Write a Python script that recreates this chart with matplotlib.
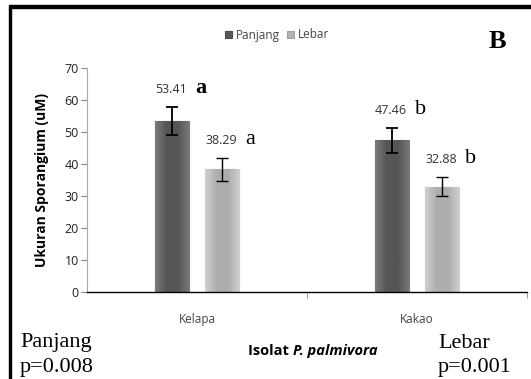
import matplotlib
matplotlib.use("Agg")
import matplotlib.pyplot as plt
import numpy as np
from matplotlib.patches import Rectangle
from matplotlib.colors import LinearSegmentedColormap

categories = ["Kelapa", "Kakao"]
series = ["Panjang", "Lebar"]
panjang = [53.41, 47.46]
lebar = [38.29, 32.88]
panjang_err = [4.5, 3.9]
lebar_err = [3.7, 3.0]
panjang_letters = ["a", "b"]
lebar_letters = ["a", "b"]
yticks = [0, 10, 20, 30, 40, 50, 60, 70]

SANS = ["Open Sans", "DejaVu Sans"]
SERIF = ["Liberation Serif", "DejaVu Serif"]


def shade(ax, bars, edge, mid):
    # horizontal gradient like the office chart bevel
    cmap = LinearSegmentedColormap.from_list("g", [edge, mid, mid, edge])
    grad = np.linspace(0, 1, 64).reshape(1, -1)
    for b in bars:
        x0, y0 = b.get_x(), b.get_y()
        im = ax.imshow(grad, cmap=cmap, aspect="auto", zorder=2.1,
                       extent=[x0, x0 + b.get_width(), y0, y0 + b.get_height()])
        im.set_clip_path(b)


def label(ax, bars, values, errs, letters, bold_first):
    for i, b in enumerate(bars):
        top = values[i] + errs[i]
        ax.annotate(f"{values[i]:.2f}", xy=(b.get_x(), top), xytext=(0, 10),
                    textcoords="offset points", ha="left", va="baseline",
                    fontsize=9, family=SANS, color="#333333")
        ax.annotate(letters[i], xy=(b.get_x(), top), xytext=(29, 10),
                    textcoords="offset points", ha="left", va="baseline",
                    fontsize=16, family=SERIF,
                    fontweight="bold" if (bold_first and i == 0) else "normal")


def main():
    fig = plt.figure(figsize=(5.31, 3.79), dpi=100)
    ax = fig.add_axes([87 / 531, 1 - 292 / 379, 440 / 531, 224 / 379])

    x = np.arange(len(categories))
    w = 0.155
    off = 0.114
    b1 = ax.bar(x - off, panjang, w, color="#5a5a5a", edgecolor="#4a4a4a",
                linewidth=0.8, label=series[0], zorder=2)
    b2 = ax.bar(x + off, lebar, w, color="#b2b2b2", edgecolor="#a0a0a0",
                linewidth=0.8, label=series[1], zorder=2)
    shade(ax, b1, "#7a7a7a", "#565656")
    shade(ax, b2, "#d0d0d0", "#adadad")
    ax.errorbar(x - off, panjang, yerr=panjang_err, fmt="none", ecolor="black",
                elinewidth=1.3, capsize=4.5, capthick=1.3, zorder=3)
    ax.errorbar(x + off, lebar, yerr=lebar_err, fmt="none", ecolor="black",
                elinewidth=1.0, capsize=4.5, capthick=1.0, zorder=3)

    ax.set_xlim(-0.5, 1.5)
    ax.set_ylim(0, 70)

    label(ax, b1, panjang, panjang_err, panjang_letters, True)
    label(ax, b2, lebar, lebar_err, lebar_letters, False)

    ax.set_yticks(yticks)
    ax.set_yticklabels([str(v) for v in yticks], family=SANS, fontsize=9, color="#222222")
    ax.set_xticks(x)
    ax.set_xticklabels(categories, family=SANS, fontsize=8.5, color="#444444")
    ax.set_xticks([0.5, 1.5], minor=True)
    ax.tick_params(axis="x", which="major", length=0, pad=15)
    ax.tick_params(axis="x", which="minor", length=4, color="#888888", direction="out")
    ax.tick_params(axis="y", length=4, color="#888888", direction="out", pad=2)

    for s in ["top", "right"]:
        ax.spines[s].set_visible(False)
    ax.spines["left"].set_color("#aaaaaa")
    ax.spines["left"].set_linewidth(0.8)
    ax.spines["bottom"].set_color("black")
    ax.spines["bottom"].set_linewidth(1.0)

    ax.set_ylabel("Ukuran Sporangium (uM)", family=SANS, fontsize=10,
                  fontweight="bold", labelpad=11)

    t1 = fig.text(248 / 531, 1 - 351 / 379, "Isolat ", ha="left", va="center",
                  family=SANS, fontsize=10.5, fontweight="bold")
    ax.annotate("P. palmivora", xy=(1, 0.5), xycoords=t1, ha="left", va="center",
                family=SANS, fontsize=10.5, fontweight="bold", style="italic",
                annotation_clip=False)

    leg = fig.legend(handles=[b1, b2], labels=series, loc="center",
                     bbox_to_anchor=(277 / 531, 1 - 35 / 379), ncol=2, frameon=False,
                     prop={"family": SANS, "size": 8.5}, handlelength=0.6,
                     handleheight=0.6, columnspacing=0.6, handletextpad=0.3)
    for t in leg.get_texts():
        t.set_color("#444444")

    fig.text(489 / 531, 1 - 48 / 379, "B", ha="left", va="baseline",
             family=SERIF, fontsize=19, fontweight="bold")

    fig.text(20 / 531, 1 - 347 / 379, "Panjang", ha="left", va="baseline",
             family=SERIF, fontsize=16)
    fig.text(20 / 531, 1 - 372 / 379, "p=0.008", ha="left", va="baseline",
             family=SERIF, fontsize=16)
    fig.text(438 / 531, 1 - 348 / 379, "Lebar", ha="left", va="baseline",
             family=SERIF, fontsize=16)
    fig.text(438 / 531, 1 - 372 / 379, "p=0.001", ha="left", va="baseline",
             family=SERIF, fontsize=16)

    # frame lines of the original figure box
    fig.patches.append(Rectangle((10 / 531, 1 - 8 / 379), 1, 3 / 379,
                                 transform=fig.transFigure, color="black"))
    fig.patches.append(Rectangle((9 / 531, 0), 2 / 531, 1 - 5 / 379,
                                 transform=fig.transFigure, color="black"))

    fig.savefig("out.png", dpi=100)


if __name__ == "__main__":
    main()
